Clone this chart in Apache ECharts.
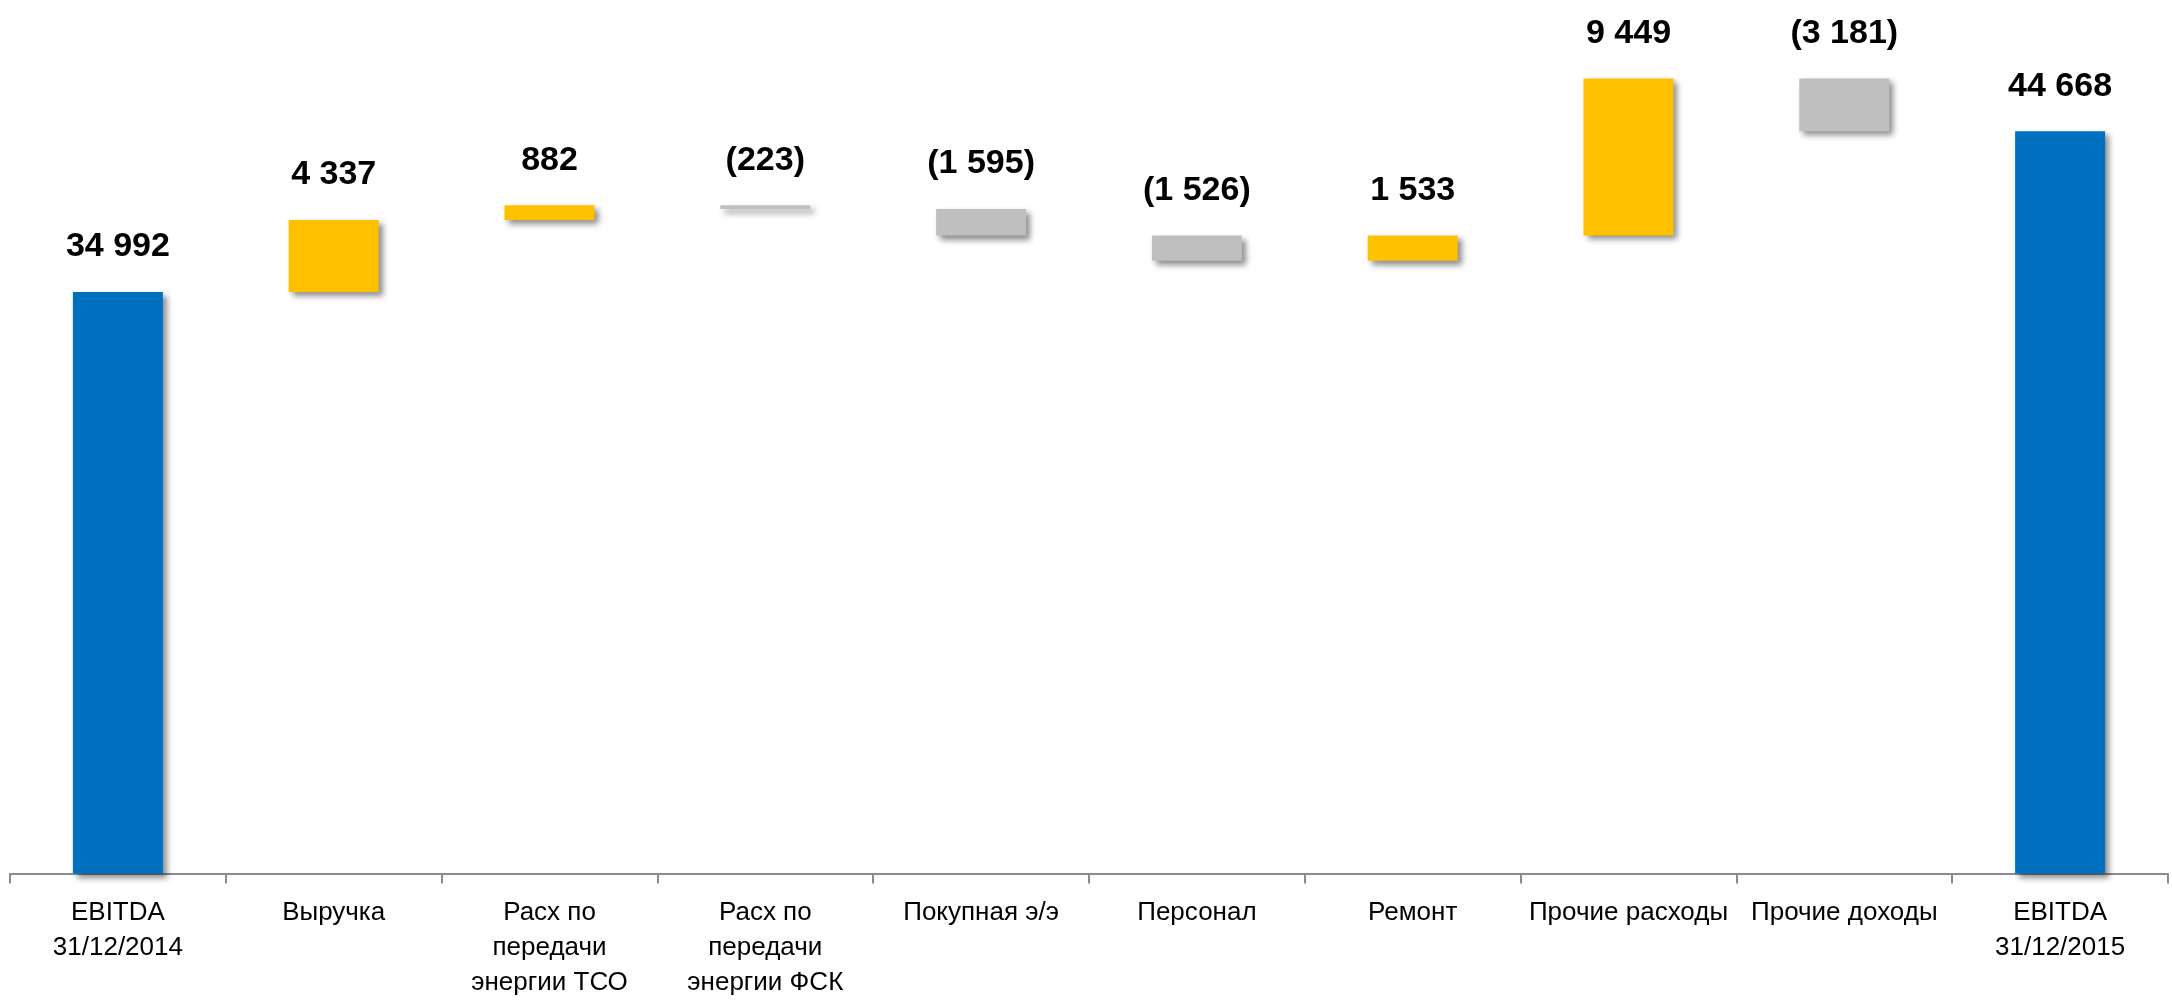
<!DOCTYPE html>
<html>
<head>
<meta charset="utf-8">
<script src="https://cdn.jsdelivr.net/npm/echarts@6/dist/echarts.min.js"></script>
<style>
html,body{margin:0;padding:0;background:#fff;}
#chart{width:2172px;height:1006px;}
</style>
</head>
<body>
<div id="chart"></div>
<script>
const categories = [
  'EBITDA\n31/12/2014',
  'Выручка',
  'Расх по\nпередачи\nэнергии ТСО',
  'Расх по\nпередачи\nэнергии ФСК',
  'Покупная э/э',
  'Персонал',
  'Ремонт',
  'Прочие расходы',
  'Прочие доходы',
  'EBITDA\n31/12/2015'
];
const startValue = 34992;
const changes = [4337, 882, -223, -1595, -1526, 1533, 9449, -3181];
const endValue = 44668;

const COLORS = { total: '#0070C0', up: '#FFC000', down: '#BFBFBF' };
const FONT = "'Liberation Sans', Arial, sans-serif";

function fmt(v) {
  const s = Math.abs(v).toString().replace(/\B(?=(\d{3})+(?!\d))/g, ' ');
  return v < 0 ? '(' + s + ')' : s;
}

const base = [0];
const visible = [{ value: startValue, raw: startValue, itemStyle: { color: COLORS.total } }];
let running = startValue;
changes.forEach(function (c) {
  const next = running + c;
  base.push(Math.min(running, next));
  visible.push({ value: Math.abs(c), raw: c, itemStyle: { color: c >= 0 ? COLORS.up : COLORS.down } });
  running = next;
});
base.push(0);
visible.push({ value: endValue, raw: endValue, itemStyle: { color: COLORS.total } });

const chart = echarts.init(document.getElementById('chart'), null, { renderer: 'canvas' });
chart.setOption({
  animation: false,
  backgroundColor: '#ffffff',
  grid: { left: 10, right: 4, top: 9.4, bottom: 132.5, containLabel: false },
  xAxis: {
    type: 'category',
    data: categories,
    axisLine: { show: true, lineStyle: { color: '#8c8c8c', width: 2 } },
    axisTick: { show: true, length: 10, lineStyle: { color: '#8c8c8c', width: 2 } },
    axisLabel: {
      interval: 0,
      margin: 22,
      color: '#000',
      fontSize: 26,
      lineHeight: 35,
      fontFamily: FONT
    },
    splitLine: { show: false }
  },
  yAxis: {
    type: 'value',
    min: 0,
    max: 52000,
    show: false,
    splitLine: { show: false }
  },
  series: [
    {
      type: 'bar',
      stack: 'wf',
      data: base,
      itemStyle: { color: 'transparent' },
      emphasis: { disabled: true },
      silent: true,
      barWidth: '41.7%'
    },
    {
      type: 'bar',
      stack: 'wf',
      data: visible,
      barWidth: '41.7%',
      itemStyle: {
        shadowColor: 'rgba(0,0,0,0.45)',
        shadowBlur: 6,
        shadowOffsetX: 4,
        shadowOffsetY: 4
      },
      label: {
        show: true,
        position: 'top',
        distance: 28,
        color: '#000',
        fontWeight: 'bold',
        fontSize: 34,
        lineHeight: 34,
        fontFamily: FONT,
        formatter: function (p) { return fmt(p.data.raw); }
      }
    }
  ]
});
</script>
</body>
</html>
